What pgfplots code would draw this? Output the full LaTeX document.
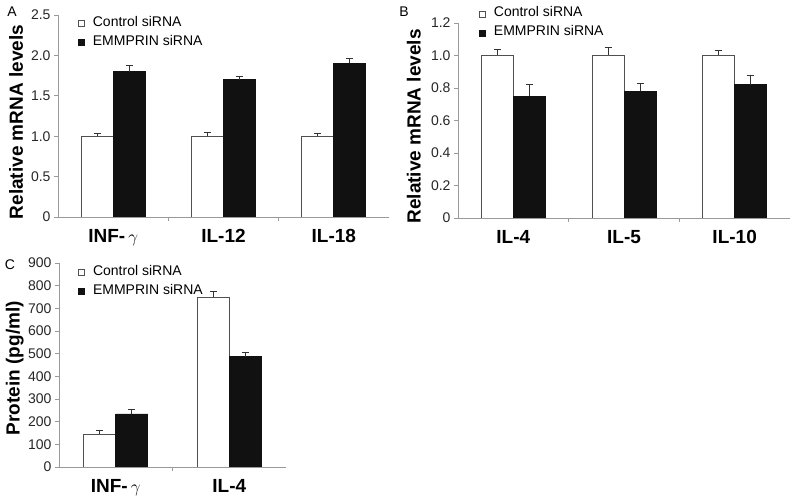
\documentclass[border=0pt]{standalone}
\usepackage{pgfplots}
\usepackage{pgfplotstable}
\pgfplotsset{compat=1.18}
\usepackage{fontspec}
\setmainfont{Liberation Sans}
\definecolor{axgray}{HTML}{9A9A9A}
\definecolor{edgegray}{HTML}{505050}
\definecolor{barblack}{HTML}{111111}
\definecolor{errgray}{HTML}{333333}

\pgfplotstableread{
x c ce e ee
0 1.00 0.04 1.80 0.07
1 1.00 0.05 1.70 0.045
2 1.00 0.03 1.90 0.06
}\dataA
\pgfplotstableread{
x c ce e ee
0 1.00 0.04 0.75 0.07
1 1.00 0.05 0.78 0.05
2 1.00 0.03 0.82 0.06
}\dataB
\pgfplotstableread{
x c ce e ee
0 145 15 234 22
1 750 25 486 20
}\dataC

\pgfplotsset{
  panel/.style={
    scale only axis,
    anchor=south west,
    axis lines=left,
    axis line style={draw=axgray, line width=0.8pt, -},
    ybar=0pt, bar width=32pt,
    xmin=-0.5, ymin=0,
    tick align=outside,
    major x tick style={draw=none},
    minor x tick style={draw=axgray, line width=0.8pt},
    y tick style={draw=axgray, line width=0.8pt},
    major tick length=4pt,
    minor tick length=4pt,
    yticklabel style={font=\fontsize{14}{14}\selectfont, text=black!85},
    xticklabel style={font=\fontsize{19}{19}\selectfont\bfseries, text=black, yshift=-5pt},
    ylabel style={font=\fontsize{19}{19}\selectfont\bfseries, anchor=center},
    legend style={draw=none, fill=none, font=\fontsize{14}{14}\selectfont,
      anchor=north west, inner sep=0pt, row sep=6pt,
      nodes={inner sep=0pt, text height=10pt, text depth=3pt},
      /tikz/every odd column/.append style={column sep=8pt}},
    legend cell align=left,
    legend image code/.code={\draw[##1] (0pt,-4pt) rectangle (6pt,2pt);},
  },
  ctrl/.style={fill=white, draw=edgegray, line width=0.8pt,
    error bars/.cd, y dir=plus, y explicit,
    error bar style={draw=errgray, line width=0.8pt},
    error mark options={draw=errgray, line width=0.8pt, mark size=3.5pt, rotate=90}},
  emm/.style={fill=barblack, draw=barblack, line width=0.8pt,
    error bars/.cd, y dir=plus, y explicit,
    error bar style={draw=errgray, line width=0.8pt},
    error mark options={draw=errgray, line width=0.8pt, mark size=3.5pt, rotate=90}},
}

\begin{document}
\begin{tikzpicture}
\useasboundingbox (0,0) rectangle (795pt,500pt);

% Panel A
\begin{axis}[panel,
  at={(58pt,283pt)}, width=331pt, height=202pt,
  xmax=2.5, ymax=2.5,
  xtick={0,1,2}, xticklabels={INF-\,$\gamma$, IL-12, IL-18},
  minor xtick={0.5,1.5},
  ytick={0,0.5,1,1.5,2,2.5}, yticklabels={0,0.5,1.0,1.5,2.0,2.5},
  ylabel={Relative mRNA levels},
  ylabel style={at={(axis description cs:-0.127,0.47)}},
  legend style={at={(axis description cs:0.060,0.995)}},
]
\addplot[ctrl] table[x=x, y=c, y error=ce] {\dataA};
\addplot[emm] table[x=x, y=e, y error=ee] {\dataA};
\legend{Control siRNA, EMMPRIN siRNA}
\end{axis}

% Panel B
\begin{axis}[panel,
  at={(458pt,282pt)}, width=332pt, height=195pt,
  xmax=2.5, ymax=1.2,
  xtick={0,1,2}, xticklabels={IL-4, IL-5, IL-10},
  minor xtick={0.5,1.5},
  ytick={0,0.2,0.4,0.6,0.8,1.0,1.2}, yticklabels={0,0.2,0.4,0.6,0.8,1.0,1.2},
  ylabel={Relative mRNA levels},
  ylabel style={at={(axis description cs:-0.133,0.47)}},
  legend style={at={(axis description cs:0.063,1.085)}},
]
\addplot[ctrl] table[x=x, y=c, y error=ce] {\dataB};
\addplot[emm] table[x=x, y=e, y error=ee] {\dataB};
\legend{Control siRNA, EMMPRIN siRNA}
\end{axis}

% Panel C
\begin{axis}[panel,
  at={(59pt,33pt)}, width=227pt, height=204pt,
  xmax=1.5, ymax=900,
  xtick={0,1}, xticklabels={INF-\,$\gamma$, IL-4},
  minor xtick={0.5},
  ytick={0,100,...,900}, yticklabels={0,100,200,300,400,500,600,700,800,900},
  ylabel={Protein (pg/ml)},
  ylabel style={at={(axis description cs:-0.195,0.485)}},
  legend style={at={(axis description cs:0.084,0.99)}},
]
\addplot[ctrl] table[x=x, y=c, y error=ce] {\dataC};
\addplot[emm] table[x=x, y=e, y error=ee] {\dataC};
\legend{Control siRNA, EMMPRIN siRNA}
\end{axis}

\node[font=\fontsize{14}{14}\selectfont] at (12pt,488pt) {A};
\node[font=\fontsize{14}{14}\selectfont] at (404pt,488pt) {B};
\node[font=\fontsize{14}{14}\selectfont] at (10pt,235pt) {C};
\end{tikzpicture}
\end{document}
